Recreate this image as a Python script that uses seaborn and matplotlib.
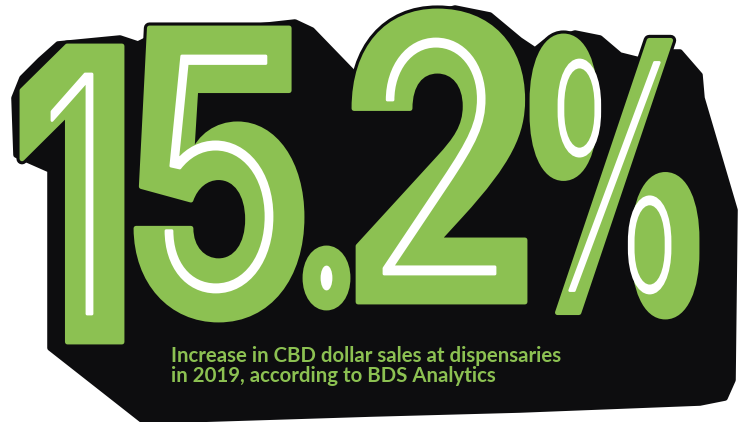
import matplotlib
matplotlib.use("Agg")
import matplotlib.pyplot as plt
import seaborn as sns
from matplotlib.textpath import TextPath
from matplotlib.patches import PathPatch, Polygon
from matplotlib.font_manager import FontProperties
from matplotlib.transforms import Affine2D

# data
value = 15.2
caption_lines = ["Increase in CBD dollar sales at dispensaries",
                 "in 2019, according to BDS Analytics"]
glyphs = list(f"{value:.1f}%")

green = "#8cc152"
black = "#0d0d0f"

# where each big glyph sits on the canvas (left, top, right, bottom in px)
glyph_boxes = [(22, 46, 122, 342), (136, 28, 302, 320), (305, 248, 348, 308),
               (354, 11, 525, 302), (532, 36, 697, 317)]
inner_pad = [(30, 28), (30, 28), (17, 19), (30, 28), (27, 24)]

# outline of the black block behind the number
shadow_x = [14, 22, 40, 58, 120, 138, 150, 295, 312, 372, 380, 400, 430, 455, 490, 520,
            535, 545, 575, 600, 620, 640, 660, 680, 700, 702, 735, 733, 725, 700, 520,
            372, 150, 143, 50, 50, 16]
shadow_y = [98, 78, 60, 44, 38, 44, 38, 22, 30, 92, 88, 40, 15, 8, 15, 40,
            50, 42, 33, 38, 55, 60, 52, 52, 75, 98, 210, 380, 398, 403, 410,
            414, 421, 421, 348, 170, 155]

sns.set_theme(style="white")
plt.rcParams["font.family"] = ["Lato", "DejaVu Sans"]

fig = plt.figure(figsize=(7.44, 4.22), dpi=100)
ax = fig.add_axes([0, 0, 1, 1])
ax.set_xlim(0, 744)
ax.set_ylim(422, 0)
ax.axis("off")

ax.add_patch(Polygon(list(zip(shadow_x, shadow_y)), closed=True, facecolor=black,
                     edgecolor=black, lw=4, joinstyle="round"))


def place(path, box):
    ext = path.get_extents()
    l, t, r, b = box
    sx = (r - l) / ext.width
    sy = (b - t) / ext.height
    tr = Affine2D().translate(-ext.x0, -ext.y0).scale(sx, -sy).translate(l, b)
    return tr.transform_path(path)


bold = FontProperties(family="Inter", weight=900)
thin = FontProperties(family="Inter", weight=100)

for g, box, pad in zip(glyphs, glyph_boxes, inner_pad):
    p = place(TextPath((0, 0), g, size=100, prop=bold), box)
    # fill each outline on its own so the % rings become solid discs
    for poly in p.to_polygons():
        ax.add_patch(Polygon(poly, closed=True, facecolor=black, edgecolor=black,
                             lw=8, joinstyle="round"))
    for poly in p.to_polygons():
        ax.add_patch(Polygon(poly, closed=True, facecolor=green, edgecolor=green,
                             lw=3.5, joinstyle="round"))
    l, t, r, b = box
    inner = (l + pad[0], t + pad[1], r - pad[0], b - pad[1])
    q = place(TextPath((0, 0), g, size=100, prop=thin), inner)
    ax.add_patch(PathPatch(q, facecolor="white", edgecolor="white", lw=2, joinstyle="round"))

# caption, sized so the first line spans the same width as in the original
fig.canvas.draw()
renderer = fig.canvas.get_renderer()
probe = ax.text(0, 0, caption_lines[0], fontsize=15, fontweight="bold")
w = probe.get_window_extent(renderer).width
probe.remove()
cap_size = 15 * 392 / w

for i, line in enumerate(caption_lines):
    ax.text(171, 362 + i * 20, line, color=green, fontsize=cap_size, fontweight="bold",
            va="baseline", ha="left")

fig.savefig("out.png", dpi=100)
